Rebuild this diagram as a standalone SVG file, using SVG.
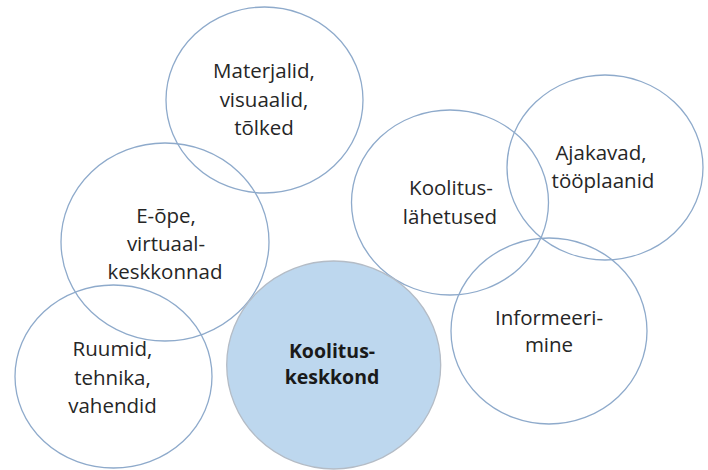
<svg xmlns="http://www.w3.org/2000/svg" width="708" height="470" viewBox="0 0 708 470">
<style>
.c{fill:none;stroke:#8eaacb;stroke-width:1.3}
.m{fill:#bdd7ee;stroke:#b4bcc6;stroke-width:1.3}
text{font-family:"Open Sans","Noto Sans",sans-serif;font-size:20.5px;fill:#262626;text-anchor:middle}
.b{font-weight:bold;font-size:19.5px;fill:#1a1a1a}
</style>
<rect width="708" height="470" fill="#ffffff"/>
<g id="materjalid">
<ellipse class="c" cx="264.5" cy="100" rx="98.5" ry="93"/>
<text x="264" y="78">Materjalid,</text>
<text x="264" y="106.5">visuaalid,</text>
<text x="264" y="135">tõlked</text>
</g>
<g id="e-ope">
<ellipse class="c" cx="165" cy="242" rx="104" ry="99"/>
<text x="166" y="222.5">E-õpe,</text>
<text x="166" y="251">virtuaal-</text>
<text x="165" y="278.5">keskkonnad</text>
</g>
<g id="ruumid">
<ellipse class="c" cx="113.5" cy="376.5" rx="98.5" ry="91.5"/>
<text x="112.5" y="356">Ruumid,</text>
<text x="112.5" y="384.5">tehnika,</text>
<text x="112.5" y="413">vahendid</text>
</g>
<g id="koolituslahetused">
<ellipse class="c" cx="450" cy="202.5" rx="98.5" ry="92.5"/>
<text x="451" y="195">Koolitus-</text>
<text x="450" y="224">lähetused</text>
</g>
<g id="ajakavad">
<ellipse class="c" cx="605" cy="167.5" rx="98" ry="92.5"/>
<text x="601" y="160">Ajakavad,</text>
<text x="603" y="188">tööplaanid</text>
</g>
<g id="informeerimine">
<ellipse class="c" cx="549" cy="331" rx="98" ry="93"/>
<text x="549" y="325">Informeeri-</text>
<text x="549" y="352">mine</text>
</g>
<g id="koolituskeskkond">
<ellipse class="m" cx="333.7" cy="365" rx="107" ry="104"/>
<text class="b" x="332" y="358">Koolitus-</text>
<text class="b" x="332" y="384">keskkond</text>
</g>
<g id="connectors"/>
</svg>
